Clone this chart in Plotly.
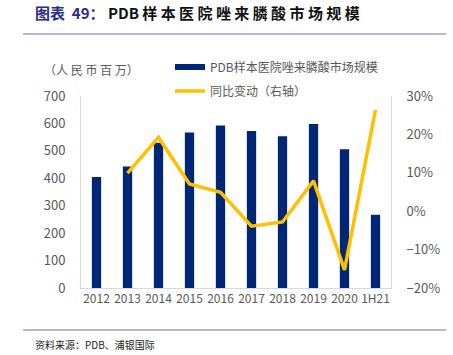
import plotly.graph_objects as go

categories = ["2012", "2013", "2014", "2015", "2016", "2017", "2018", "2019", "2020", "1H21"]
market_size = [405, 443, 530, 567, 592, 572, 553, 598, 506, 267]
yoy_cats = ["2013", "2014", "2015", "2016", "2017", "2018", "2019", "2020", "1H21"]
yoy_change = [0.099, 0.192, 0.071, 0.049, -0.039, -0.028, 0.079, -0.153, 0.264]

bar_name = "PDB样本医院唑来膦酸市场规模"
line_name = "同比变动（右轴）"

L, R, T, B = 81, 62, 96, 67
W, H = 453, 355
pw, ph = W - L - R, H - T - B

def px(x):
    return (x - L) / pw

def py(y):
    return (H - B - y) / ph

font = "Noto Sans CJK SC"
gray = "#595959"
bar_color = "#002776"
line_color = "#FFC000"

fig = go.Figure()
fig.add_trace(go.Bar(x=categories, y=market_size, name=bar_name,
                     marker=dict(color=bar_color, line=dict(width=0)), yaxis="y"))
fig.add_trace(go.Scatter(x=yoy_cats, y=yoy_change, name=line_name, mode="lines",
                         line=dict(color=line_color, width=3.5), yaxis="y2"))

fig.update_layout(
    width=W, height=H,
    margin=dict(l=L, r=R, t=T, b=B),
    plot_bgcolor="white", paper_bgcolor="white",
    font=dict(family=font, color=gray, size=12),
    bargap=0.7,
    showlegend=False,
    xaxis=dict(type="category", showline=True, linecolor="#D9D9D9", linewidth=1,
               ticks="", showgrid=False, tickfont=dict(size=12, color=gray),
               range=[-0.5, 9.5]),
    yaxis=dict(range=[0, 700], dtick=100, showline=True, linecolor="#D9D9D9", linewidth=1,
               showgrid=False, zeroline=False, ticks="", tickfont=dict(size=13, color=gray),
               ticklabelstandoff=12),
    yaxis2=dict(range=[-0.2, 0.3], dtick=0.1, tickformat=".0%", overlaying="y", side="right",
                showline=True, linecolor="#D9D9D9", linewidth=1, showgrid=False, zeroline=False,
                ticks="", tickfont=dict(size=13, color=gray), ticklabelstandoff=12),
)

# title
fig.add_annotation(xref="paper", yref="paper", x=px(33), y=py(12), xanchor="left", yanchor="middle",
                   text="<b><span style='color:#2B2B85'>图表  49：</span> PDB 样 本 医 院 唑 来 膦 酸 市 场 规 模</b>",
                   showarrow=False, font=dict(size=15, color="#111111", family=font))
# unit
fig.add_annotation(xref="paper", yref="paper", x=px(42), y=py(70), xanchor="left", yanchor="middle",
                   text="（人 民 币 百 万）", showarrow=False, font=dict(size=12, color=gray, family=font))
# manual legend
fig.add_shape(type="rect", xref="paper", yref="paper", x0=px(175), x1=px(205), y0=py(64), y1=py(70),
              fillcolor=bar_color, line=dict(width=0))
fig.add_annotation(xref="paper", yref="paper", x=px(208), y=py(67), xanchor="left", yanchor="middle",
                   text=bar_name, showarrow=False, font=dict(size=12, color=gray, family=font))
fig.add_shape(type="line", xref="paper", yref="paper", x0=px(175), x1=px(205), y0=py(91), y1=py(91),
              line=dict(color=line_color, width=3.5))
fig.add_annotation(xref="paper", yref="paper", x=px(208), y=py(91), xanchor="left", yanchor="middle",
                   text=line_name, showarrow=False, font=dict(size=12, color=gray, family=font))
# source
fig.add_annotation(xref="paper", yref="paper", x=px(33), y=py(344), xanchor="left", yanchor="middle",
                   text="资料来源：PDB、浦银国际", showarrow=False, font=dict(size=10, color="#222222", family=font))

for yy in (34, 330):
    fig.add_shape(type="line", xref="paper", yref="paper", x0=px(23), x1=px(446), y0=py(yy), y1=py(yy),
                  line=dict(color="#7070B0", width=1))

fig.write_html("out.html", config={"displayModeBar": False},
               post_script="document.body.style.margin='0';document.body.style.overflow='hidden';")
